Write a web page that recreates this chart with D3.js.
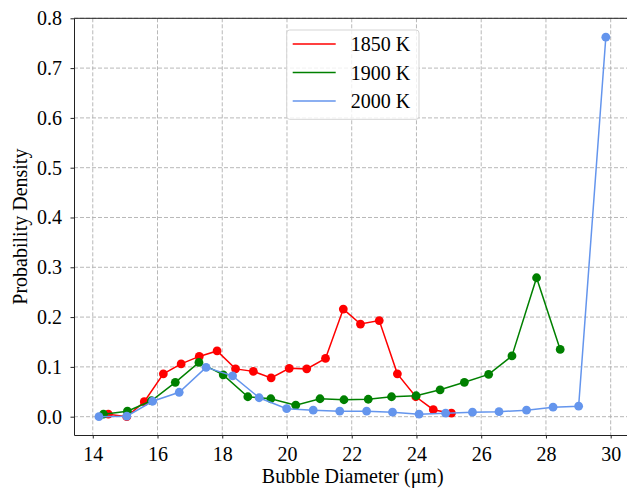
<!DOCTYPE html>
<html>
<head>
<meta charset="utf-8">
<script src="https://cdn.jsdelivr.net/npm/d3@7"></script>
<style>
  html, body { margin: 0; padding: 0; background: #fff; overflow: hidden; }
  svg { display: block; overflow: hidden; }
</style>
</head>
<body>
<div id="wrapper"></div>
<script>
const x1850 = [14.48, 15.05, 15.59, 16.18, 16.73, 17.29, 17.84, 18.41, 18.96, 19.51, 20.07, 20.61, 21.19, 21.74, 22.27, 22.85, 23.41, 23.98, 24.52, 25.08];
const y1850 = [0.005, 0.000, 0.030, 0.086, 0.106, 0.121, 0.132, 0.096, 0.091, 0.078, 0.097, 0.096, 0.117, 0.216, 0.186, 0.193, 0.086, 0.040, 0.014, 0.007];

const x1900 = [14.33, 15.07, 15.81, 16.55, 17.28, 18.03, 18.79, 19.50, 20.27, 21.02, 21.76, 22.51, 23.23, 23.99, 24.73, 25.48, 26.23, 26.95, 27.71, 28.44];
const y1900 = [0.005, 0.011, 0.032, 0.069, 0.109, 0.084, 0.040, 0.036, 0.023, 0.036, 0.034, 0.035, 0.040, 0.042, 0.054, 0.069, 0.085, 0.122, 0.279, 0.135];

const x2000 = [14.19, 15.05, 15.85, 16.67, 17.50, 18.32, 19.14, 19.99, 20.81, 21.63, 22.46, 23.26, 24.08, 24.90, 25.73, 26.55, 27.40, 28.22, 29.01, 29.85];
const y2000 = [0.000, 0.001, 0.031, 0.049, 0.099, 0.082, 0.038, 0.016, 0.013, 0.011, 0.011, 0.009, 0.005, 0.007, 0.009, 0.010, 0.013, 0.019, 0.021, 0.762];

const seriesNames = ["1850 K", "1900 K", "2000 K"];
const seriesColors = ["red", "green", "cornflowerblue"];
const xTicks = [14, 16, 18, 20, 22, 24, 26, 28, 30];
const yTicks = [0.0, 0.1, 0.2, 0.3, 0.4, 0.5, 0.6, 0.7, 0.8];

const series = [
  { name: seriesNames[0], color: seriesColors[0], values: x1850.map((x, i) => ({ x, y: y1850[i] })) },
  { name: seriesNames[1], color: seriesColors[1], values: x1900.map((x, i) => ({ x, y: y1900[i] })) },
  { name: seriesNames[2], color: seriesColors[2], values: x2000.map((x, i) => ({ x, y: y2000[i] })) },
];

const width = 627;
const height = 488;
// the plot area runs a few px past the right edge of the picture
const margin = { top: 18.3, right: -4.4, bottom: 53, left: 74 };
const boundedWidth = width - margin.left - margin.right;
const boundedHeight = height - margin.top - margin.bottom;
const visibleWidth = width - margin.left;
const font = "'Liberation Serif', 'Times New Roman', Times, 'DejaVu Serif', serif";
const fontSize = "20px";

const svg = d3.select("#wrapper")
  .append("svg")
  .attr("width", width)
  .attr("height", height)
  .attr("viewBox", `0 0 ${width} ${height}`);

svg.append("defs").append("clipPath")
  .attr("id", "clip")
  .append("rect")
  .attr("x", -margin.left)
  .attr("y", -margin.top)
  .attr("width", width)
  .attr("height", height);

const bounds = svg.append("g")
  .attr("transform", `translate(${margin.left},${margin.top})`)
  .attr("clip-path", "url(#clip)");

const xScale = d3.scaleLinear()
  .domain([13.42, 30.64])
  .range([0, boundedWidth]);

const yScale = d3.scaleLinear()
  .domain([-0.0368, 0.8])
  .range([boundedHeight, 0]);

// grid
const grid = bounds.append("g")
  .attr("stroke", "#b0b0b0")
  .attr("stroke-width", 0.9)
  .attr("stroke-dasharray", "4,2");
grid.selectAll("line.gx")
  .data(xTicks)
  .join("line")
  .attr("class", "gx")
  .attr("x1", d => xScale(d)).attr("x2", d => xScale(d))
  .attr("y1", 0).attr("y2", boundedHeight);
grid.selectAll("line.gy")
  .data(yTicks)
  .join("line")
  .attr("class", "gy")
  .attr("x1", 0).attr("x2", visibleWidth)
  .attr("y1", d => yScale(d)).attr("y2", d => yScale(d));

// lines + markers
const lineGen = d3.line()
  .x(d => xScale(d.x))
  .y(d => yScale(d.y));

series.forEach(s => {
  const g = bounds.append("g");
  g.append("path")
    .datum(s.values)
    .attr("d", lineGen)
    .attr("fill", "none")
    .attr("stroke", s.color)
    .attr("stroke-width", 1.5);
  g.selectAll("circle")
    .data(s.values)
    .join("circle")
    .attr("cx", d => xScale(d.x))
    .attr("cy", d => yScale(d.y))
    .attr("r", 4.4)
    .attr("fill", s.color);
});

// axes
const xAxis = bounds.append("g")
  .attr("transform", `translate(0,${boundedHeight})`)
  .call(d3.axisBottom(xScale).tickValues(xTicks).tickSize(3.5).tickSizeOuter(0).tickPadding(8).tickFormat(d3.format("d")));
const yAxis = bounds.append("g")
  .call(d3.axisLeft(yScale).tickValues(yTicks).tickSize(3.5).tickSizeOuter(0).tickPadding(8.5).tickFormat(d3.format(".1f")));

[xAxis, yAxis].forEach(ax => {
  ax.attr("font-family", null);
  ax.select(".domain").attr("stroke", "#222").attr("stroke-width", 1);
  ax.selectAll(".tick line").attr("stroke", "#222").attr("stroke-width", 1);
  ax.selectAll(".tick text")
    .attr("fill", "#000")
    .style("font-family", font)
    .style("font-size", fontSize);
});

// top spine
bounds.append("line")
  .attr("x1", 0).attr("x2", visibleWidth)
  .attr("y1", 0).attr("y2", 0)
  .attr("stroke", "#222").attr("stroke-width", 1);

// axis labels
svg.append("text")
  .attr("x", margin.left + boundedWidth / 2)
  .attr("y", 483)
  .attr("text-anchor", "middle")
  .style("font-family", font)
  .style("font-size", fontSize)
  .text("Bubble Diameter (μm)");

svg.append("text")
  .attr("transform", `translate(27,${margin.top + boundedHeight / 2}) rotate(-90)`)
  .attr("text-anchor", "middle")
  .style("font-family", font)
  .style("font-size", fontSize)
  .text("Probability Density");

// legend
const legend = svg.append("g")
  .attr("transform", "translate(286.7,30)");
legend.append("rect")
  .attr("width", 132.3)
  .attr("height", 89.3)
  .attr("rx", 3)
  .attr("fill", "#fff")
  .attr("fill-opacity", 0.8)
  .attr("stroke", "#d5d5d5")
  .attr("stroke-width", 1);
const items = legend.selectAll("g.item")
  .data(series)
  .join("g")
  .attr("class", "item")
  .attr("transform", (d, i) => `translate(0,${14 + i * 28.5})`);
items.append("line")
  .attr("x1", 6).attr("x2", 49)
  .attr("stroke", d => d.color)
  .attr("stroke-width", 1.5);
items.append("text")
  .attr("x", 64)
  .attr("y", 7)
  .style("font-family", font)
  .style("font-size", fontSize)
  .text(d => d.name);
</script>
</body>
</html>
